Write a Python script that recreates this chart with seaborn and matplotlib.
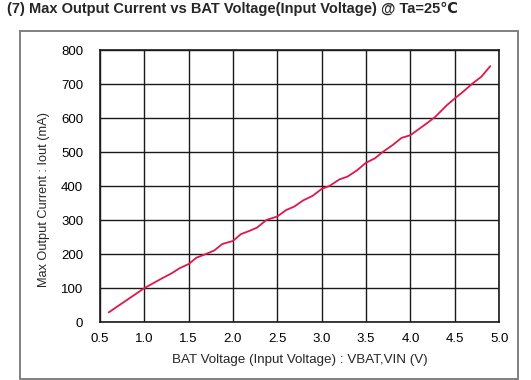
import matplotlib
matplotlib.use("Agg")
import matplotlib.pyplot as plt
import seaborn as sns
import pandas as pd
from matplotlib.patches import Rectangle

# values
vbat = [0.60, 1.00, 1.20, 1.31, 1.40, 1.50, 1.59, 1.70, 1.79, 1.88, 2.00, 2.09, 2.18, 2.27,
        2.38, 2.50, 2.60, 2.69, 2.79, 2.90, 3.00, 3.09, 3.20, 3.29, 3.40, 3.50, 3.60, 3.69,
        3.80, 3.90, 4.00, 4.09, 4.18, 4.28, 4.41, 4.50, 4.59, 4.70, 4.80, 4.90]
iout = [29, 100, 129, 144, 159, 171, 190, 201, 211, 230, 239, 259, 268, 278,
        301, 311, 330, 340, 358, 372, 392, 401, 420, 428, 447, 469, 482, 501,
        521, 542, 550, 567, 584, 604, 638, 658, 677, 702, 722, 753]
xticks = [0.5, 1.0, 1.5, 2.0, 2.5, 3.0, 3.5, 4.0, 4.5, 5.0]
yticks = [0, 100, 200, 300, 400, 500, 600, 700, 800]

df = pd.DataFrame({"vbat": vbat, "iout": iout})

sns.set_style("white")
plt.rcParams["font.family"] = ["Liberation Sans", "DejaVu Sans"]

fig, ax = plt.subplots(figsize=(5.31, 3.80), dpi=100)
fig.subplots_adjust(left=0.188, right=0.940, top=0.868, bottom=0.152)

sns.lineplot(data=df, x="vbat", y="iout", color="#E0174A", linewidth=1.3, ax=ax)

ax.set_xlim(0.5, 5.0)
ax.set_ylim(0, 800)
ax.set_xticks(xticks)
ax.set_xticklabels([f"{t:.1f}" for t in xticks])
ax.set_yticks(yticks)
ax.set_yticklabels([str(t) for t in yticks])
ax.tick_params(axis="x", length=0, labelsize=9.5, colors="black", pad=8)
ax.tick_params(axis="y", length=0, labelsize=9.5, colors="black", pad=12)
ax.grid(True, color="#1a1a1a", linewidth=1.0)
for s in ax.spines.values():
    s.set_visible(True)
    s.set_color("#1a1a1a")
    s.set_linewidth(1.2)

ax.set_xlabel("BAT Voltage (Input Voltage) : VBAT,VIN (V)", fontsize=9.6, labelpad=6)
ax.set_ylabel("Max Output Current : Iout (mA)", fontsize=9.2)
ax.yaxis.set_label_coords(-0.125, 0.45)

fig.text(7 / 531, 1 - 9 / 380, "(7) Max Output Current vs BAT Voltage(Input Voltage) @ Ta=25℃",
         fontsize=10.5, fontweight="bold", ha="left", va="center")

fig.add_artist(Rectangle((20 / 531, 1 / 380), 498 / 531, 348 / 380, transform=fig.transFigure,
                         fill=False, edgecolor="#808080", linewidth=1.4))

plt.savefig("out.png", dpi=100)
